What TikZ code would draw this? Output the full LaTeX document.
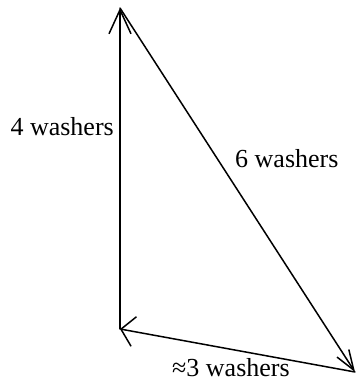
\documentclass[tikz,border=0pt]{standalone}
\usepackage{fontspec}
\setmainfont{Liberation Serif}
\usetikzlibrary{arrows.meta}
\begin{document}
\begin{tikzpicture}[x=1pt,y=1pt,
  vec/.style={line width=1.5pt, line cap=round},
  lbl/.style={inner sep=0pt, font=\fontsize{26}{30}\selectfont}]
\useasboundingbox (0,0) rectangle (356,383);
\coordinate (T) at (120,375);
\coordinate (BL) at (120,54);
\coordinate (BR) at (355,11);
\draw[vec, -{Straight Barb[length=24pt,width=22pt,line width=1.5pt]}] (BL) -- (T);
\draw[vec, -{Straight Barb[length=20pt,width=14pt,line width=1.5pt]}] (T) -- (BR);
\draw[vec, -{Straight Barb[length=13pt,width=30pt,line width=1.5pt]}] (BR) -- (BL);
\node[lbl, anchor=base east] (l4) at (114,247) {4 washers};
\node[lbl, anchor=base west] (l6) at (235,215) {6 washers};
\node[lbl, anchor=base west] (l3) at (172,6) {≈3 washers};
\end{tikzpicture}
\end{document}
